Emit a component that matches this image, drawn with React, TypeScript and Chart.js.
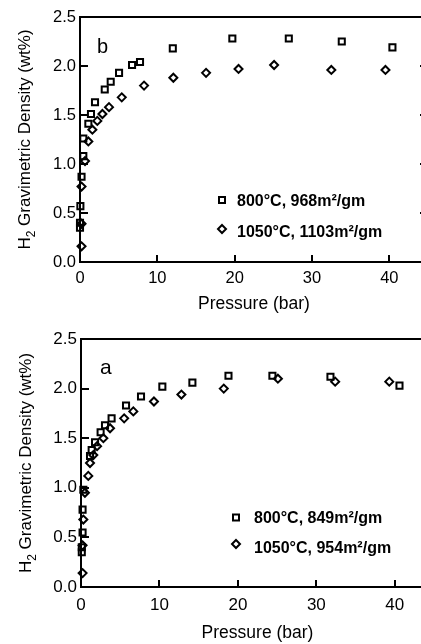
import React, { useEffect, useRef } from "react";
import { Chart, registerables } from "chart.js";

Chart.register(...registerables);

// ---------- data ----------
const xTickValues = [0, 10, 20, 30, 40];
const yTickValues = [0, 0.5, 1.0, 1.5, 2.0, 2.5];

// panel b
const bLabels = ["800°C, 968m²/gm", "1050°C, 1103m²/gm"];
const b800X = [0.0, 0.0, 0.05, 0.2, 0.43, 0.43, 1.08, 1.42, 1.94, 3.2, 3.97, 5.05, 6.73, 7.76, 12.0, 19.7, 27.0, 33.85, 40.4];
const b800Y = [0.35, 0.4, 0.57, 0.87, 1.08, 1.26, 1.41, 1.51, 1.63, 1.76, 1.84, 1.93, 2.01, 2.04, 2.18, 2.28, 2.28, 2.25, 2.19];
const b1050X = [0.2, 0.2, 0.2, 0.65, 1.08, 1.6, 2.24, 2.9, 3.75, 5.4, 8.28, 12.07, 16.3, 20.5, 25.1, 32.5, 39.5];
const b1050Y = [0.16, 0.39, 0.77, 1.03, 1.23, 1.35, 1.44, 1.51, 1.58, 1.68, 1.8, 1.88, 1.93, 1.97, 2.01, 1.96, 1.96];

// panel a
const aLabels = ["800°C, 849m²/gm", "1050°C, 954m²/gm"];
const a800X = [0.1, 0.1, 0.2, 0.2, 0.3, 1.15, 1.36, 1.79, 2.5, 3.06, 3.9, 5.74, 7.65, 10.37, 14.2, 18.8, 24.4, 31.8, 40.6];
const a800Y = [0.35, 0.4, 0.55, 0.78, 0.98, 1.32, 1.38, 1.46, 1.56, 1.63, 1.7, 1.83, 1.92, 2.02, 2.06, 2.13, 2.13, 2.12, 2.03];
const a1050X = [0.2, 0.2, 0.3, 0.5, 0.93, 1.15, 1.57, 2.05, 2.85, 3.7, 5.5, 6.67, 9.3, 12.8, 18.2, 25.1, 32.4, 39.3];
const a1050Y = [0.14, 0.42, 0.68, 0.95, 1.12, 1.25, 1.33, 1.42, 1.5, 1.6, 1.7, 1.77, 1.87, 1.94, 2.0, 2.1, 2.07, 2.07];

const FONT = "'Liberation Sans', Arial, Helvetica, sans-serif";

type PanelCfg = {
  top: number;
  width: number;
  height: number;
  padTop: number;
  padRight: number;
  yWidth: number;
  xHeight: number;
  letter: string;
  letterDX: number;
  letterDY: number;
  letterSize: number;
  sqX: number[];
  sqY: number[];
  diX: number[];
  diY: number[];
  labels: string[];
  legMarkX: number;
  legTextX: number;
  legMarkY: number[];
  legBase: number[];
  yTitleBase: number;
  xTitleBase: number;
  tickSize: number;
  xTickPad: number;
};

function drawSquare(ctx: CanvasRenderingContext2D, x: number, y: number) {
  ctx.strokeRect(x - 3, y - 3, 6, 6);
}
function drawDiamond(ctx: CanvasRenderingContext2D, x: number, y: number) {
  ctx.beginPath();
  ctx.moveTo(x, y - 4);
  ctx.lineTo(x + 4, y);
  ctx.lineTo(x, y + 4);
  ctx.lineTo(x - 4, y);
  ctx.closePath();
  ctx.stroke();
}

function Panel({ cfg }: { cfg: PanelCfg }) {
  const ref = useRef<HTMLCanvasElement | null>(null);
  useEffect(() => {
    if (!ref.current) return;
    const decor = {
      id: "decor",
      afterDraw(chart: any) {
        const { ctx, chartArea: a, scales } = chart;
        const xs = scales.x;
        const ys = scales.y;
        ctx.save();
        ctx.strokeStyle = "#000";
        ctx.fillStyle = "#000";
        ctx.lineWidth = 2;
        ctx.strokeRect(a.left, a.top, a.right - a.left, a.bottom - a.top);
        ctx.beginPath();
        xTickValues.forEach((v) => {
          if (v === 0) return;
          const px = Math.round(xs.getPixelForValue(v));
          ctx.moveTo(px, a.bottom);
          ctx.lineTo(px, a.bottom - 7);
        });
        yTickValues.forEach((v) => {
          if (v === 0 || v === 2.5) return;
          const py = Math.round(ys.getPixelForValue(v));
          ctx.moveTo(a.left, py);
          ctx.lineTo(a.left + 8, py);
          ctx.moveTo(a.right, py);
          ctx.lineTo(a.right - 8, py);
        });
        ctx.stroke();

        // panel letter
        ctx.font = `${cfg.letterSize}px ${FONT}`;
        ctx.textBaseline = "alphabetic";
        ctx.textAlign = "left";
        ctx.fillText(cfg.letter, a.left + cfg.letterDX, a.top + cfg.letterDY);

        // legend
        ctx.lineWidth = 2;
        drawSquare(ctx, cfg.legMarkX, cfg.legMarkY[0]);
        drawDiamond(ctx, cfg.legMarkX, cfg.legMarkY[1]);
        ctx.font = `bold 16px ${FONT}`;
        ctx.fillText(cfg.labels[0], cfg.legTextX, cfg.legBase[0]);
        ctx.fillText(cfg.labels[1], cfg.legTextX, cfg.legBase[1]);

        // x title
        ctx.font = `17.5px ${FONT}`;
        ctx.textAlign = "center";
        ctx.fillText("Pressure (bar)", (a.left + a.right) / 2, a.bottom + cfg.xTitleBase);

        // y title with subscript
        const big = `17px ${FONT}`;
        const small = `12px ${FONT}`;
        ctx.font = big;
        const wH = ctx.measureText("H").width;
        const rest = " Gravimetric Density (wt%)";
        const wRest = ctx.measureText(rest).width;
        ctx.font = small;
        const w2 = ctx.measureText("2").width;
        const total = wH + w2 + wRest;
        ctx.translate(cfg.yTitleBase, (a.top + a.bottom) / 2);
        ctx.rotate(-Math.PI / 2);
        ctx.textAlign = "left";
        let cx = -total / 2;
        ctx.font = big;
        ctx.fillText("H", cx, 0);
        cx += wH;
        ctx.font = small;
        ctx.fillText("2", cx, 5);
        cx += w2;
        ctx.font = big;
        ctx.fillText(rest, cx, 0);
        ctx.restore();
      },
    };

    const chart = new Chart(ref.current, {
      type: "scatter",
      data: {
        datasets: [
          {
            label: cfg.labels[0],
            data: cfg.sqX.map((x, i) => ({ x, y: cfg.sqY[i] })),
            pointStyle: "rect",
            pointRadius: 4.3,
            borderColor: "#000",
            backgroundColor: "rgba(0,0,0,0)",
            pointBorderWidth: 2,
            showLine: false,
            clip: false as any,
          },
          {
            label: cfg.labels[1],
            data: cfg.diX.map((x, i) => ({ x, y: cfg.diY[i] })),
            pointStyle: "rectRot",
            pointRadius: 4,
            borderColor: "#000",
            backgroundColor: "rgba(0,0,0,0)",
            pointBorderWidth: 2,
            showLine: false,
            clip: false as any,
          },
        ],
      },
      options: {
        responsive: false,
        animation: false,
        events: [],
        layout: { padding: { top: cfg.padTop, right: cfg.padRight, left: 0, bottom: 0 } },
        plugins: { legend: { display: false }, tooltip: { enabled: false } },
        scales: {
          x: {
            type: "linear",
            min: 0,
            max: 45,
            grid: { display: false, drawTicks: false },
            border: { display: false },
            afterBuildTicks: (s: any) => {
              s.ticks = xTickValues.map((v) => ({ value: v }));
            },
            afterFit: (s: any) => {
              s.height = cfg.xHeight;
            },
            ticks: {
              color: "#000",
              padding: cfg.xTickPad,
              maxRotation: 0,
              font: { family: FONT, size: cfg.tickSize },
              callback: (v: any) => String(v),
            },
          },
          y: {
            type: "linear",
            min: 0,
            max: 2.5,
            grid: { display: false, drawTicks: false },
            border: { display: false },
            afterBuildTicks: (s: any) => {
              s.ticks = yTickValues.map((v) => ({ value: v }));
            },
            afterFit: (s: any) => {
              s.width = cfg.yWidth;
            },
            ticks: {
              color: "#000",
              padding: 4,
              font: { family: FONT, size: cfg.tickSize },
              callback: (v: any) => Number(v).toFixed(1),
            },
          },
        },
      },
      plugins: [decor],
    });
    return () => chart.destroy();
  }, [cfg]);

  return (
    <canvas
      ref={ref}
      width={cfg.width}
      height={cfg.height}
      style={{ position: "absolute", left: 0, top: cfg.top, width: cfg.width, height: cfg.height }}
    />
  );
}

const panelB: PanelCfg = {
  top: 0,
  width: 440,
  height: 320,
  padTop: 17,
  padRight: 12,
  yWidth: 80,
  xHeight: 58,
  letter: "b",
  letterDX: 17,
  letterDY: 36,
  letterSize: 20,
  sqX: b800X,
  sqY: b800Y,
  diX: b1050X,
  diY: b1050Y,
  labels: bLabels,
  legMarkX: 222,
  legTextX: 237,
  legMarkY: [200, 229],
  legBase: [206, 237],
  yTitleBase: 30,
  xTitleBase: 47,
  tickSize: 16.5,
  xTickPad: 7,
};

const panelA: PanelCfg = {
  top: 320,
  width: 450,
  height: 324,
  padTop: 19,
  padRight: 16,
  yWidth: 81,
  xHeight: 57,
  letter: "a",
  letterDX: 19,
  letterDY: 35,
  letterSize: 21,
  sqX: a800X,
  sqY: a800Y,
  diX: a1050X,
  diY: a1050Y,
  labels: aLabels,
  legMarkX: 236,
  legTextX: 254,
  legMarkY: [197.5, 224],
  legBase: [202.7, 233],
  yTitleBase: 31,
  xTitleBase: 51,
  tickSize: 17,
  xTickPad: 8,
};

export default function App() {
  return (
    <div
      style={{
        position: "fixed",
        left: 0,
        top: 0,
        width: 421,
        height: 644,
        overflow: "hidden",
        background: "#fff",
      }}
    >
      <Panel cfg={panelB} />
      <Panel cfg={panelA} />
    </div>
  );
}
